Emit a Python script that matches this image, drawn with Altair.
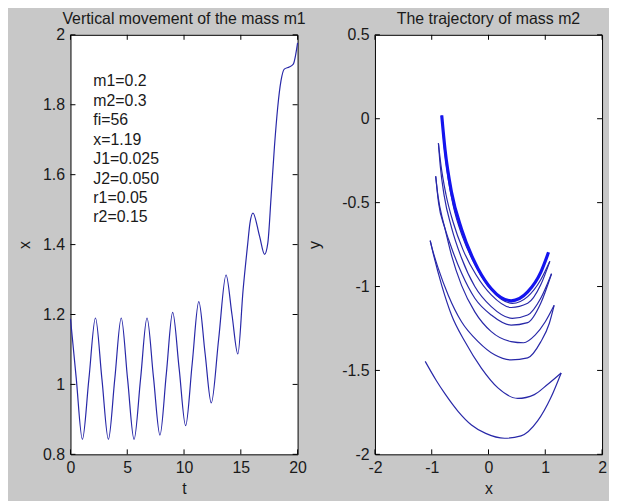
import altair as alt
import pandas as pd

# ---------------- left panel: vertical movement x(t) of mass m1 ----------------
t_vals = [0.0, 0.5, 1.05, 1.62, 2.2, 2.77, 3.34, 3.9, 4.47, 5.03, 5.6, 6.17, 6.74,
          7.31, 7.88, 8.44, 9.0, 9.57, 10.14, 10.72, 11.3, 11.85, 12.4, 13.05, 13.7,
          14.22, 14.74, 15.2, 15.6, 15.8, 16.07, 16.65, 17.09, 17.38, 17.67, 17.96,
          18.25, 18.54, 18.83, 19.27, 19.62, 20.0]
x_vals = [1.188, 1.02, 0.843, 1.015, 1.19, 1.015, 0.843, 1.015, 1.19, 1.015, 0.843,
          1.015, 1.19, 1.02, 0.855, 1.03, 1.206, 1.045, 0.882, 1.06, 1.237, 1.09,
          0.947, 1.13, 1.313, 1.20, 1.087, 1.27, 1.40, 1.46, 1.49, 1.424, 1.372,
          1.405, 1.538, 1.679, 1.793, 1.869, 1.902, 1.908, 1.916, 1.977]

param_lines = ["m1=0.2", "m2=0.3", "fi=56", "x=1.19", "J1=0.025", "J2=0.050",
               "r1=0.05", "r2=0.15"]

left_xticks = [0, 5, 10, 15, 20]
left_yticks = [0.8, 1.0, 1.2, 1.4, 1.6, 1.8, 2.0]

# ---------------- right panel: trajectory of mass m2 (one swing per array) ----------------
swing1_x = [-1.115, -0.92, -0.765, -0.533, -0.30, -0.05, 0.283, 0.573, 0.865, 1.097, 1.28]
swing1_y = [-1.446, -1.56, -1.64, -1.745, -1.825, -1.875, -1.904, -1.89, -1.801, -1.663, -1.515]

swing2_x = [-1.027, -0.969, -0.824, -0.65, -0.416, -0.126, 0.166, 0.515, 0.807, 1.039, 1.28]
swing2_y = [-0.727, -0.81, -0.993, -1.171, -1.328, -1.486, -1.604, -1.667, -1.644, -1.584, -1.515]

swing3_x = [-1.027, -0.999, -0.882, -0.707, -0.475, -0.183, 0.108, 0.398, 0.69, 0.92, 1.07, 1.156]
swing3_y = [-0.727, -0.765, -0.895, -1.053, -1.21, -1.328, -1.407, -1.437, -1.425, -1.33, -1.22, -1.112]

swing4_x = [-0.93, -0.88, -0.765, -0.65, -0.475, -0.241, 0.049, 0.398, 0.62, 0.82, 1.0, 1.156]
swing4_y = [-0.343, -0.50, -0.658, -0.816, -0.993, -1.151, -1.269, -1.328, -1.335, -1.29, -1.21, -1.112]

swing5_x = [-0.93, -0.89, -0.80, -0.65, -0.475, -0.241, 0.049, 0.398, 0.69, 0.92, 1.11]
swing5_y = [-0.343, -0.46, -0.61, -0.77, -0.92, -1.07, -1.17, -1.23, -1.215, -1.10, -0.924]

swing6_x = [-0.882, -0.85, -0.78, -0.65, -0.475, -0.241, 0.049, 0.42, 0.69, 0.92, 1.11]
swing6_y = [-0.146, -0.28, -0.46, -0.65, -0.83, -1.00, -1.12, -1.19, -1.17, -1.07, -0.924]

swing7_x = [-0.882, -0.84, -0.75, -0.62, -0.45, -0.22, 0.049, 0.40, 0.69, 0.92, 1.08]
swing7_y = [-0.146, -0.27, -0.45, -0.62, -0.78, -0.93, -1.05, -1.125, -1.10, -0.99, -0.85]

swing8_x = [-0.824, -0.79, -0.73, -0.62, -0.45, -0.22, 0.049, 0.42, 0.69, 0.92, 1.08]
swing8_y = [0.02, -0.13, -0.31, -0.52, -0.71, -0.88, -1.02, -1.10, -1.06, -0.96, -0.85]

# the final, repeated swings that pile up into the thick band
band_x = [-0.824, -0.765, -0.65, -0.475, -0.27, -0.183, 0.049, 0.398, 0.69, 0.922, 1.057]
band_y = [0.02, -0.186, -0.44, -0.658, -0.836, -0.895, -1.013, -1.085, -1.032, -0.914, -0.796]

right_xticks = [-2, -1, 0, 1, 2]
right_yticks = [-2, -1.5, -1, -0.5, 0, 0.5]

left_title = "Vertical movement of the mass m1"
right_title = "The trajectory of mass m2"

# ---------------- build tables ----------------
left_df = pd.DataFrame({"t": t_vals, "x": x_vals})

swings = {
    "s1": (swing1_x, swing1_y), "s2": (swing2_x, swing2_y),
    "s3": (swing3_x, swing3_y), "s4": (swing4_x, swing4_y),
    "s5": (swing5_x, swing5_y), "s6": (swing6_x, swing6_y),
    "s7": (swing7_x, swing7_y), "s8": (swing8_x, swing8_y),
}
rows = []
for name, (xs, ys) in swings.items():
    for a, b in zip(xs, ys):
        rows.append({"swing": name, "x": a, "y": b})
swing_df = pd.DataFrame(rows)
band_df = pd.DataFrame({"x": band_x, "y": band_y})
one_row = pd.DataFrame({"k": [0]})

# ---------------- styling ----------------
W, H = 229, 423
FONT = "Liberation Sans"
TXT = "#1a1a1a"
LINE = "#2828a8"
BAND = "#1414ee"
FS = 16
TICK = 5


def x_axis(values, title):
    return alt.Axis(values=values, title=title, titleX=W / 2, titleY=39,
                    titleBaseline="alphabetic", titleAlign="center",
                    labelExpr="'' + datum.value", labelPadding=5,
                    labelBaseline="top", labelAlign="center")


def y_axis(values, title, tx):
    return alt.Axis(values=values, title=title, titleX=tx, titleY=H / 2,
                    titleAngle=270, titleAlign="center", titleBaseline="middle",
                    labelExpr="'' + datum.value", labelPadding=6,
                    labelAlign="right", labelBaseline="middle")


def tick_layers(xticks, yticks, xs, ys, xax, yax):
    xt = pd.DataFrame({"v": xticks})
    yt = pd.DataFrame({"v": yticks})
    rule = dict(color="black", strokeWidth=1)
    bottom = alt.Chart(xt).mark_rule(**rule).encode(
        x=alt.X("v:Q", scale=xs, axis=xax), y=alt.value(H), y2=alt.value(H - TICK))
    top = alt.Chart(xt).mark_rule(**rule).encode(
        x=alt.X("v:Q", scale=xs, axis=xax), y=alt.value(0), y2=alt.value(TICK))
    left = alt.Chart(yt).mark_rule(**rule).encode(
        y=alt.Y("v:Q", scale=ys, axis=yax), x=alt.value(0), x2=alt.value(TICK))
    right = alt.Chart(yt).mark_rule(**rule).encode(
        y=alt.Y("v:Q", scale=ys, axis=yax), x=alt.value(W), x2=alt.value(W - TICK))
    return [bottom, top, left, right]


def title_mark(text):
    return alt.Chart(one_row).mark_text(
        align="center", baseline="alphabetic", font=FONT, fontSize=FS, color=TXT
    ).encode(x=alt.value(W / 2), y=alt.value(-11), text=alt.value(text))


# ---------------- left chart ----------------
lxs = alt.Scale(domain=[0, 20], nice=False, zero=False)
lys = alt.Scale(domain=[0.8, 2], nice=False, zero=False)
lxa = x_axis(left_xticks, "t")
lya = y_axis(left_yticks, "x", -46)

left_line = alt.Chart(left_df).mark_line(color=LINE, strokeWidth=1.2, interpolate="monotone").encode(
    x=alt.X("t:Q", scale=lxs, axis=lxa),
    y=alt.Y("x:Q", scale=lys, axis=lya),
)

ann = alt.Chart(one_row).mark_text(
    align="left", baseline="alphabetic", font=FONT, fontSize=FS, lineHeight=19.6, color=TXT
).encode(x=alt.value(23), y=alt.value(52), text=alt.value(param_lines))

left = alt.layer(left_line, ann, title_mark(left_title),
                 *tick_layers(left_xticks, left_yticks, lxs, lys, lxa, lya)).properties(
    width=W, height=H)

# ---------------- right chart ----------------
rxs = alt.Scale(domain=[-2, 2], nice=False, zero=False)
rys = alt.Scale(domain=[-2, 0.5], nice=False, zero=False)
rxa = x_axis(right_xticks, "x")
rya = y_axis(right_yticks, "y", -61)

swing_lines = alt.Chart(swing_df).mark_line(color=LINE, strokeWidth=1.2, interpolate="monotone").encode(
    x=alt.X("x:Q", scale=rxs, axis=rxa),
    y=alt.Y("y:Q", scale=rys, axis=rya),
    detail="swing:N",
)
band_line = alt.Chart(band_df).mark_line(color=BAND, strokeWidth=3.2, interpolate="monotone").encode(
    x=alt.X("x:Q", scale=rxs, axis=rxa), y=alt.Y("y:Q", scale=rys, axis=rya))

right = alt.layer(swing_lines, band_line, title_mark(right_title),
                  *tick_layers(right_xticks, right_yticks, rxs, rys, rxa, rya)).properties(
    width=W, height=H)

chart = alt.hconcat(left, right, spacing=78, bounds="flush").properties(
    background="#c8c8c8",
    padding={"left": 8, "top": 0, "right": 2, "bottom": 2},
).configure_view(fill="white", stroke="black", strokeWidth=1).configure_axis(
    labelFont=FONT, labelFontSize=FS, labelColor=TXT,
    titleFont=FONT, titleFontSize=FS, titleFontWeight="normal", titleColor=TXT,
    ticks=False, domain=False, grid=False,
    labelFlush=False, labelOverlap=False, labelBound=False,
)

chart.save("out.html", embed_options={"renderer": "svg", "actions": False})
